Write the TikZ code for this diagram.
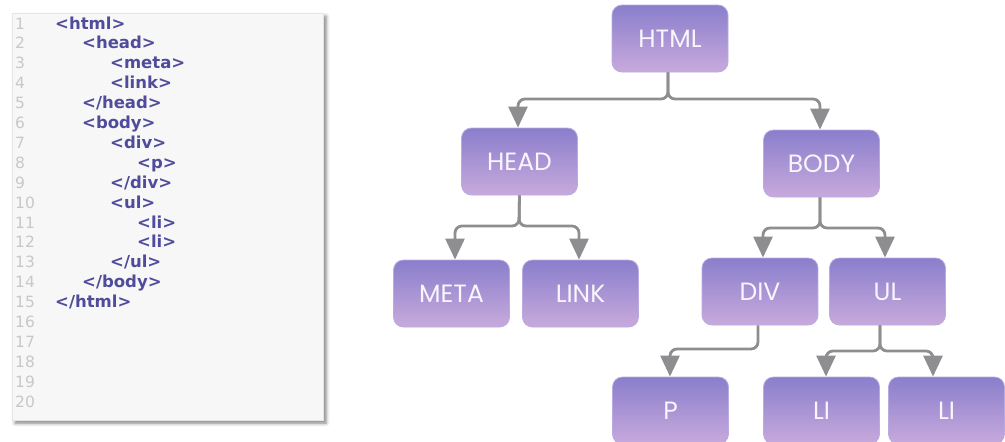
\documentclass[tikz,border=0pt]{standalone}
\usepackage{fontspec}
\setmainfont{DejaVu Sans}
\newfontfamily\boxfont{Poppins}
\usetikzlibrary{arrows.meta,shadows.blur}

\definecolor{panelbg}{RGB}{246,247,246}
\definecolor{paneledge}{RGB}{228,229,228}
\definecolor{tagink}{RGB}{80,76,155}
\definecolor{numink}{RGB}{200,200,200}
\definecolor{boxtop}{RGB}{138,126,204}
\definecolor{boxbot}{RGB}{200,170,220}
\definecolor{boxedge}{RGB}{185,170,225}
\definecolor{boxink}{RGB}{248,245,252}
\definecolor{wire}{RGB}{142,142,144}

\tikzset{
  panel/.style={fill=panelbg, draw=paneledge, line width=0.6pt,
    blur shadow={shadow xshift=3pt, shadow yshift=-3pt,
      shadow blur radius=3.5pt, shadow opacity=50}},
  codeline/.style={anchor=base west, inner sep=0pt, text=tagink,
    font=\bfseries\fontsize{16.5}{16.5}\selectfont},
  lnum/.style={anchor=base west, inner sep=0pt, text=numink,
    font=\fontsize{15.5}{15.5}\selectfont},
  elem/.style={rounded corners=10pt, minimum width=116pt, minimum height=67pt,
    inner sep=0pt, top color=boxtop, bottom color=boxbot, draw=boxedge,
    line width=0.8pt, text=boxink, font=\boxfont\fontsize{25}{25}\selectfont},
  conn/.style={draw=wire, line width=2.8pt, rounded corners=7pt,
    -{Triangle[width=19pt,length=21pt,fill=wire]}},
}

\begin{document}
\begin{tikzpicture}[x=1pt,y=-1pt]
\useasboundingbox (0,0) rectangle (1005,442);
\clip (0,0) rectangle (1005,442);

% source listing
\fill[panel] (12,13) rectangle (323,420);
\foreach \i in {1,...,20}
  \node[lnum] (n\i) at (15,{29+(\i-1)*19.9}) {\i};
\node[codeline] (c1)  at (55, 29.0) {<html>};
\node[codeline] (c2)  at (82, 48.9) {<head>};
\node[codeline] (c3)  at (110,68.8) {<meta>};
\node[codeline] (c4)  at (110,88.7) {<link>};
\node[codeline] (c5)  at (82,108.6) {</head>};
\node[codeline] (c6)  at (82,128.5) {<body>};
\node[codeline] (c7)  at (110,148.4) {<div>};
\node[codeline] (c8)  at (137,168.3) {<p>};
\node[codeline] (c9)  at (110,188.2) {</div>};
\node[codeline] (c10) at (110,208.1) {<ul>};
\node[codeline] (c11) at (137,228.0) {<li>};
\node[codeline] (c12) at (137,247.9) {<li>};
\node[codeline] (c13) at (110,267.8) {</ul>};
\node[codeline] (c14) at (82,287.7) {</body>};
\node[codeline] (c15) at (55,307.6) {</html>};

% document tree
\node[elem] (html) at (670,38.5)   {HTML};
\node[elem] (head) at (519.5,161.5) {HEAD};
\node[elem] (body) at (821.5,163.5) {BODY};
\node[elem] (meta) at (451.5,293.5) {META};
\node[elem] (link) at (580.5,293.5) {LINK};
\node[elem] (div)  at (760,291.5)   {DIV};
\node[elem] (ul)   at (887.5,291.5) {UL};
\node[elem] (p)    at (670.5,410.5) {P};
\node[elem] (li1)  at (821.5,410.5) {LI};
\node[elem] (li2)  at (946.5,410.5) {LI};

% branch points
\coordinate (jhtml) at (668,99);
\coordinate (jhead) at (519,226);
\coordinate (jbody) at (820,228);
\coordinate (jdiv)  at (758,349);
\coordinate (jul)   at (880,351);

\draw[conn] ([xshift=-2pt]html.south) -- (jhtml) -| ([xshift=-1.5pt]head.north);
\draw[conn] ([xshift=-2pt]html.south) -- (jhtml) -| ([xshift=-1.5pt]body.north);
\draw[conn] (head.south) -- (jhead) -| ([xshift=3.5pt]meta.north);
\draw[conn] (head.south) -- (jhead) -| ([xshift=-1.5pt]link.north);
\draw[conn] ([xshift=-1.5pt]body.south) -- (jbody) -| ([xshift=3pt]div.north);
\draw[conn] ([xshift=-1.5pt]body.south) -- (jbody) -| ([xshift=-2.5pt]ul.north);
\draw[conn] ([xshift=-2pt]div.south) -- (jdiv) -| ([xshift=-0.5pt]p.north);
\draw[conn] ([xshift=-7.5pt]ul.south) -- (jul) -| ([xshift=4.5pt]li1.north);
\draw[conn] ([xshift=-7.5pt]ul.south) -- (jul) -| ([xshift=-13.5pt]li2.north);
\end{tikzpicture}
\end{document}
